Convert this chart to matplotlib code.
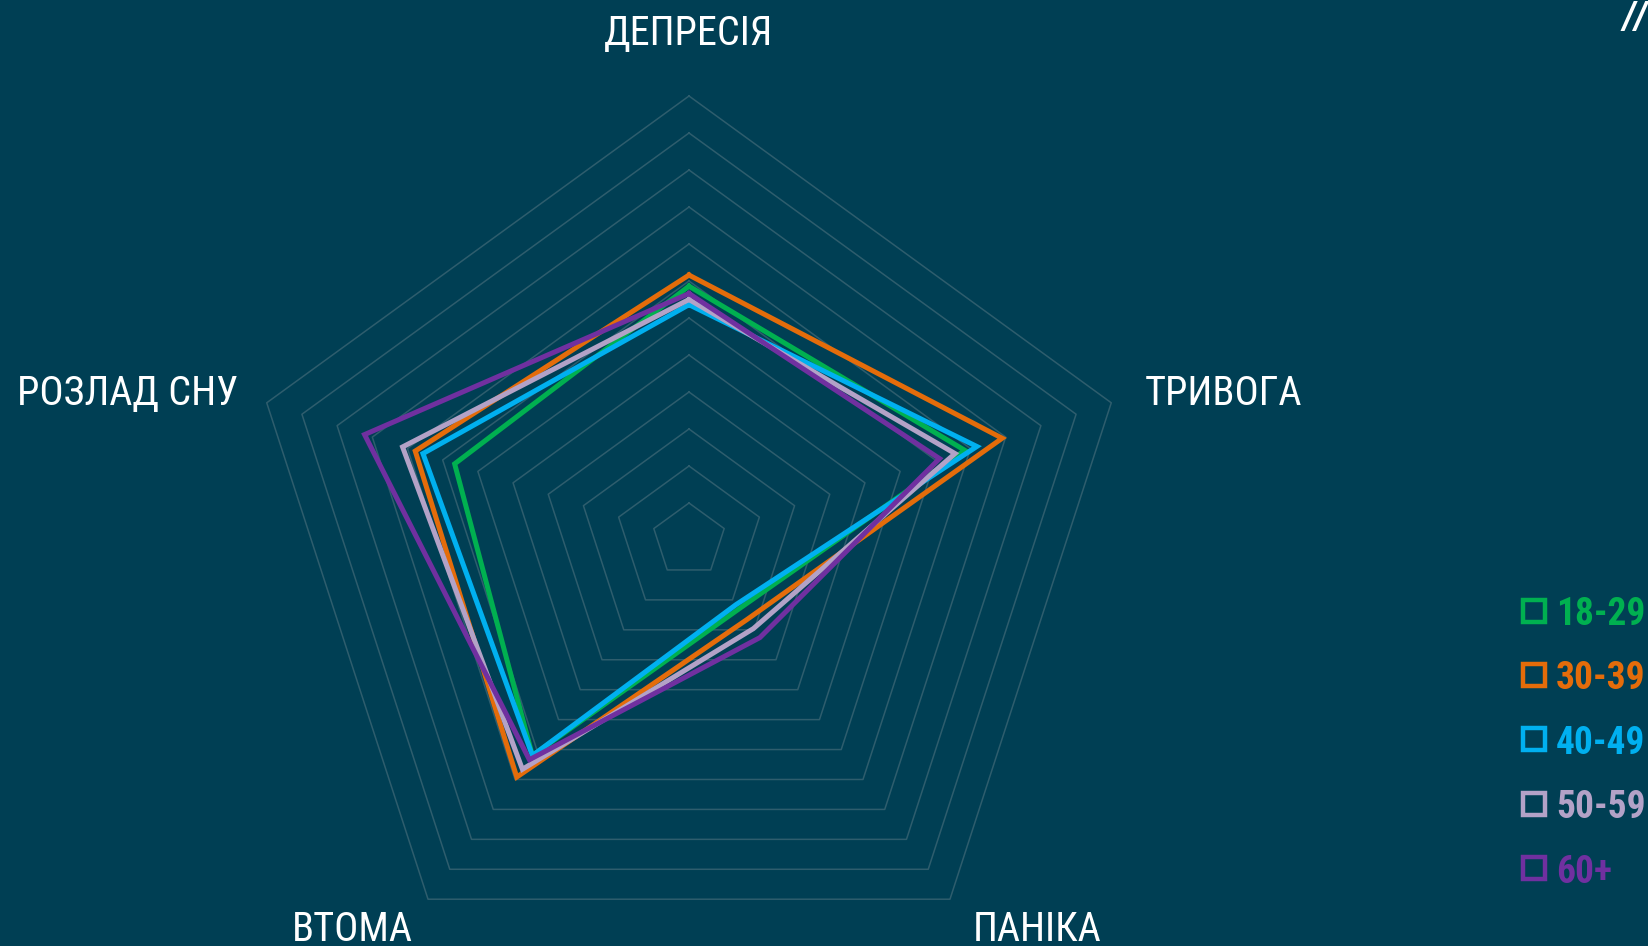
import numpy as np
import matplotlib
matplotlib.use('Agg')
from matplotlib import pyplot as plt
from matplotlib.lines import Line2D

# categories go clockwise from the top
categories = ['ДЕПРЕСІЯ', 'ТРИВОГА', 'ПАНІКА', 'ВТОМА', 'РОЗЛАД СНУ']
groups = ['18-29', '30-39', '40-49', '50-59', '60+']
colors = ['#00B050', '#E46C0A', '#00B0F0', '#B3A2C7', '#7030A0']

# values in % (12 rings of 5%)
vals_18_29 = [34.3, 39.2, 11.5, 36.0, 33.3]
vals_30_39 = [35.8, 44.5, 13.3, 39.6, 38.9]
vals_40_49 = [31.8, 40.9, 10.8, 36.0, 37.8]
vals_50_59 = [32.5, 37.8, 14.8, 38.3, 40.7]
vals_60 = [33.3, 35.6, 16.3, 36.7, 46.1]
series = [vals_18_29, vals_30_39, vals_40_49, vals_50_59, vals_60]
rings = np.arange(5, 61, 5)

BG = '#003F54'
GRID = '#2E5D6D'
W, H = 1648, 946

plt.rcParams.update({'font.family': ['Roboto Condensed', 'Liberation Sans Narrow',
                                     'Roboto', 'DejaVu Sans']})


def px(x, y):
    return x / W, 1 - y / H


fig = plt.figure(figsize=(W / 100, H / 100), dpi=100, facecolor=BG)
cx, cy, R = 689, 540, 444
ax = fig.add_axes([(cx - R) / W, (H - cy - R) / H, 2 * R / W, 2 * R / H],
                  projection='polar')
ax.set_theta_offset(np.pi / 2)
ax.set_theta_direction(-1)
ax.set_ylim(0, 60)
ax.axis('off')

theta = np.linspace(0, 2 * np.pi, len(categories) + 1)
for r in rings:
    ax.plot(theta, [r] * len(theta), color=GRID, lw=1.1, clip_on=False)

for vals, col in zip(series, colors):
    ax.plot(theta, vals + vals[:1], color=col, lw=3.6,
            solid_joinstyle='miter', clip_on=False)

# category labels
lab_kw = dict(color='white', fontsize=29, va='baseline')
fig.text(*px(689, 45), categories[0], ha='center', **lab_kw)
fig.text(*px(1145, 405), categories[1], ha='left', **lab_kw)
fig.text(*px(973, 941), categories[2], ha='left', **lab_kw)
fig.text(*px(292, 941), categories[3], ha='left', **lab_kw)
fig.text(*px(17, 405), categories[4], ha='left', **lab_kw)

# legend
for i, (g, col) in enumerate(zip(groups, colors)):
    yc = 610.5 + 64.4 * i
    fig.add_artist(Line2D([1534 / W], [1 - yc / H], transform=fig.transFigure,
                          marker='s', markersize=16, markerfacecolor='none',
                          markeredgecolor=col, markeredgewidth=3.2, linestyle='none'))
    fig.text(*px(1556, yc + 14.5), g, color=col, fontsize=27,
             fontweight='bold', va='baseline', ha='left')

fig.text(*px(1647, 0), '//', color='white', fontsize=28, fontweight='bold',
         style='italic', ha='right', va='top')

fig.savefig('out.png', dpi=100, facecolor=BG)
